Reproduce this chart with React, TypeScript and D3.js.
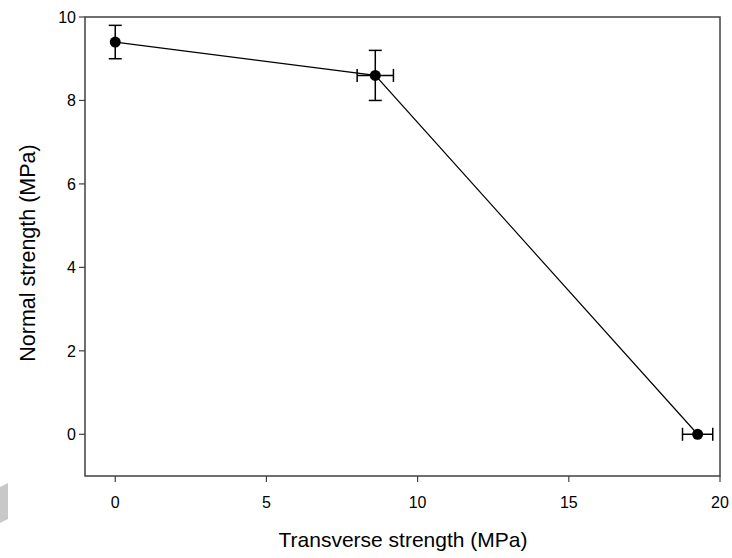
import React from 'react';
import * as d3 from 'd3';

// measured points with error bars
const xValues = [0, 8.6, 19.26];
const yValues = [9.4, 8.6, 0];
const xErrors = [0, 0.6, 0.5];
const yErrors = [0.4, 0.6, 0];
const xTicks = [0, 5, 10, 15, 20];
const yTicks = [0, 2, 4, 6, 8, 10];

const width = 732;
const height = 558;
const margin = { left: 85, right: 12, top: 17, bottom: 82 };

export default function App() {
  const x = d3.scaleLinear().domain([-1, 20]).range([margin.left, width - margin.right]);
  const y = d3.scaleLinear().domain([-1, 10]).range([height - margin.bottom, margin.top]);
  const points = xValues.map((v, i) => ({ x: v, y: yValues[i], ex: xErrors[i], ey: yErrors[i] }));
  const line = d3.line<{ x: number; y: number }>().x(d => x(d.x)).y(d => y(d.y));
  const cap = 6.5;
  const axisColor = '#404040';
  const font = 'Arial, "Liberation Sans", sans-serif';
  const [x0, x1] = x.range();
  const [y0, y1] = y.range();

  return (
    <svg width={width} height={height} style={{ position: 'absolute', left: 0, top: 0 }}>
      <rect width={width} height={height} fill="#fff" />
      <polygon points="0,487 8,483 8,519 0,523" fill="#c8c8c8" />

      {/* frame */}
      <rect x={x0} y={y1} width={x1 - x0} height={y0 - y1} fill="none" stroke={axisColor} strokeWidth={1.5} />

      {/* x ticks */}
      {xTicks.map(t => (
        <g key={`x${t}`}>
          <line x1={x(t)} x2={x(t)} y1={y0} y2={y0 + 6} stroke={axisColor} strokeWidth={1.2} />
          <text x={x(t)} y={y0 + 32} textAnchor="middle" fontFamily={font} fontSize={16} fill="#000">{t}</text>
        </g>
      ))}
      {/* y ticks */}
      {yTicks.map(t => (
        <g key={`y${t}`}>
          <line x1={x0 - 6} x2={x0} y1={y(t)} y2={y(t)} stroke={axisColor} strokeWidth={1.2} />
          <text x={x0 - 9} y={y(t)} dy="0.36em" textAnchor="end" fontFamily={font} fontSize={16} fill="#000">{t}</text>
        </g>
      ))}

      <text x={403} y={547} textAnchor="middle" fontFamily={font} fontSize={21} fill="#000">
        Transverse strength (MPa)
      </text>
      <text transform="translate(35, 253) rotate(-90)" textAnchor="middle" fontFamily={font} fontSize={21.5} fill="#000">
        Normal strength (MPa)
      </text>

      <path d={line(points) || ''} fill="none" stroke="#000" strokeWidth={1.2} />

      {points.map((p, i) => (
        <g key={i} stroke="#000" strokeWidth={1.5}>
          {p.ey > 0 && (
            <>
              <line x1={x(p.x)} x2={x(p.x)} y1={y(p.y - p.ey)} y2={y(p.y + p.ey)} />
              <line x1={x(p.x) - cap} x2={x(p.x) + cap} y1={y(p.y + p.ey)} y2={y(p.y + p.ey)} />
              <line x1={x(p.x) - cap} x2={x(p.x) + cap} y1={y(p.y - p.ey)} y2={y(p.y - p.ey)} />
            </>
          )}
          {p.ex > 0 && (
            <>
              <line x1={x(p.x - p.ex)} x2={x(p.x + p.ex)} y1={y(p.y)} y2={y(p.y)} />
              <line x1={x(p.x - p.ex)} x2={x(p.x - p.ex)} y1={y(p.y) - cap} y2={y(p.y) + cap} />
              <line x1={x(p.x + p.ex)} x2={x(p.x + p.ex)} y1={y(p.y) - cap} y2={y(p.y) + cap} />
            </>
          )}
          <circle cx={x(p.x)} cy={y(p.y)} r={5.5} fill="#000" stroke="none" />
        </g>
      ))}
    </svg>
  );
}
